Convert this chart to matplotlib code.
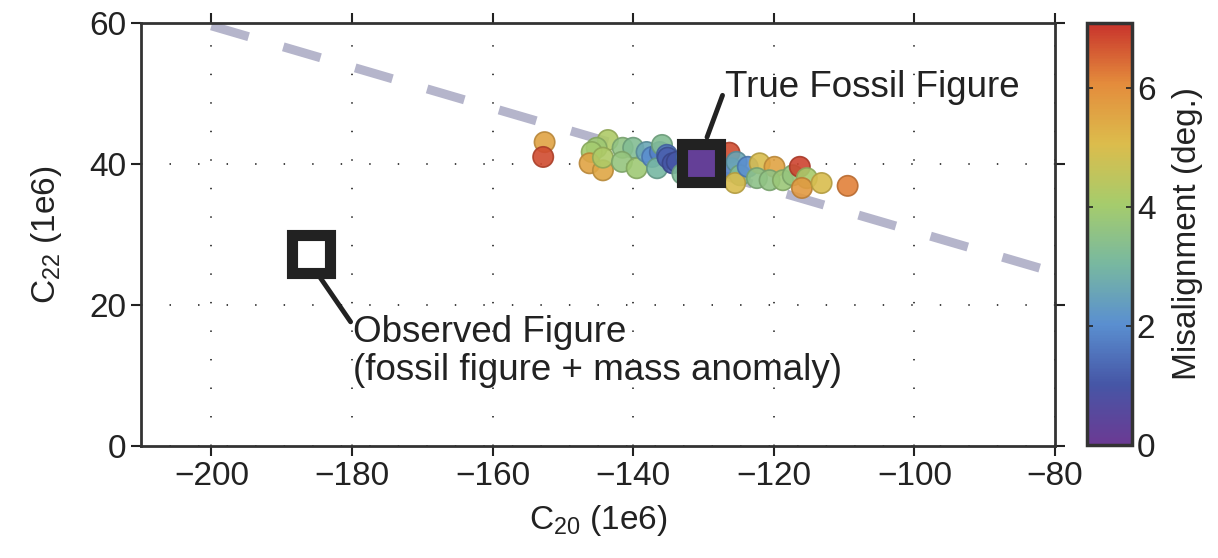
import numpy as np
import matplotlib.pyplot as plt
from matplotlib.colors import LinearSegmentedColormap, Normalize

plt.rcParams['font.family'] = ['Liberation Sans', 'DejaVu Sans']
plt.rcParams['mathtext.fontset'] = 'custom'
plt.rcParams['mathtext.rm'] = 'Liberation Sans'
plt.rcParams['mathtext.it'] = 'Liberation Sans:italic'
plt.rcParams['mathtext.default'] = 'regular'

# Monte Carlo solutions: C20, C22 (1e6) and misalignment (deg.)
c20 = [-152.6, -152.8, -143.6, -145.2, -145.9, -146.2, -144.3, -144.3, -141.5, -140.0,
       -141.6, -139.5, -138.1, -137.3, -136.2, -136.6, -135.9, -135.2, -135.1, -134.4,
       -133.8, -132.5, -133.0, -126.3, -126.0, -125.3, -124.8, -125.5, -123.7, -122.0,
       -119.9, -122.4, -120.6, -118.7, -117.3, -116.3, -115.3, -116.0, -113.2, -109.5]
c22 = [43.1, 41.0, 43.4, 42.3, 41.7, 40.1, 39.1, 40.9, 42.3, 42.3,
       40.3, 39.4, 41.7, 41.0, 41.7, 39.4, 42.7, 41.3, 40.9, 40.1,
       40.3, 41.0, 38.6, 41.6, 39.4, 40.3, 38.4, 37.3, 39.6, 40.1,
       39.6, 38.0, 37.7, 37.7, 38.4, 39.6, 38.0, 36.6, 37.3, 36.9]
misalign = [5.6, 6.8, 4.2, 3.9, 4.0, 5.6, 5.5, 4.2, 3.6, 3.3,
            3.7, 3.9, 2.6, 2.0, 1.8, 3.0, 3.3, 1.6, 1.2, 1.0,
            1.0, 1.5, 3.2, 6.8, 1.8, 2.6, 3.3, 5.0, 2.0, 5.0,
            5.6, 3.5, 3.6, 3.8, 3.7, 6.9, 4.1, 5.8, 5.0, 6.2]

true_fossil = (-130.3, 40.1)
observed = (-185.8, 27.3)
trend_x = [-200, -80]
trend_y = [59.6, 24.6]

cmap = LinearSegmentedColormap.from_list('misalign', [
    '#6b3a93', '#4656a6', '#5a8fd0', '#78b8a0', '#a6cc6c',
    '#dcbc4c', '#e48c3c', '#c8332c'])
norm = Normalize(0, 7.1)

fig = plt.figure(figsize=(12.18, 5.58), dpi=100)
ax = fig.add_axes([0.1158, 0.2007, 0.7504, 0.7581])
cax = fig.add_axes([0.8924, 0.2025, 0.037, 0.7563])

ax.plot(trend_x, trend_y, color='#b5b5cb', lw=6.5, dashes=(4.3, 4.0), zorder=2)

cols = cmap(norm(np.array(misalign)))
edge = cols.copy()
edge[:, :3] *= 0.82
ax.scatter(c20, c22, s=215, c=cols, edgecolors=edge, linewidths=1.2, alpha=0.9, zorder=3)

ax.plot(*true_fossil, marker='s', ms=27, mew=8, mfc=cmap(norm(0.2)), mec='#222222', zorder=5)
ax.plot(*observed, marker='s', ms=27, mew=8, mfc='white', mec='#222222', zorder=5)

ax.annotate('True Fossil Figure', xy=(-129.5, 43.8), xytext=(-126.9, 50.8),
            fontsize=26.5, color='#222222', va='center', ha='left',
            arrowprops=dict(arrowstyle='-', lw=3.5, color='#222222',
                            shrinkA=0, shrinkB=0, relpos=(0, 0.5)), zorder=6)
ax.annotate('Observed Figure\n(fossil figure + mass anomaly)', xy=(-184.8, 24.3),
            xytext=(-179.8, 18.6), fontsize=26.5, color='#222222', va='top', ha='left',
            linespacing=1.12,
            arrowprops=dict(arrowstyle='-', lw=3.5, color='#222222',
                            shrinkA=0, shrinkB=0, relpos=(0, 0.85)), zorder=6)

ax.set_xlim(-210, -80)
ax.set_ylim(0, 60)
ax.set_xticks(np.arange(-200, -79, 20))
ax.set_yticks([0, 20, 40, 60])
ax.grid(True, color='#333333', lw=1.3, dashes=(0.8, 15))
ax.tick_params(direction='out', length=7, width=1.5, labelsize=24, colors='#222222',
               top=True, right=True)
for s in ax.spines.values():
    s.set_linewidth(2)
    s.set_color('#333333')
ax.set_xlabel('C$_{20}$ (1e6)', fontsize=24, color='#222222', labelpad=8)
ax.set_ylabel('C$_{22}$ (1e6)', fontsize=24, color='#222222', labelpad=18)

cb = fig.colorbar(plt.cm.ScalarMappable(norm=norm, cmap=cmap), cax=cax)
cb.set_ticks([0, 2, 4, 6])
cb.ax.tick_params(direction='in', length=4, width=1.2, labelsize=24, colors='#222222',
                  left=True, right=True)
cb.outline.set_linewidth(2.5)
cb.outline.set_edgecolor('#333333')
cb.set_label('Misalignment (deg.)', fontsize=24, color='#222222', labelpad=12)

fig.savefig('out.png', dpi=100)
